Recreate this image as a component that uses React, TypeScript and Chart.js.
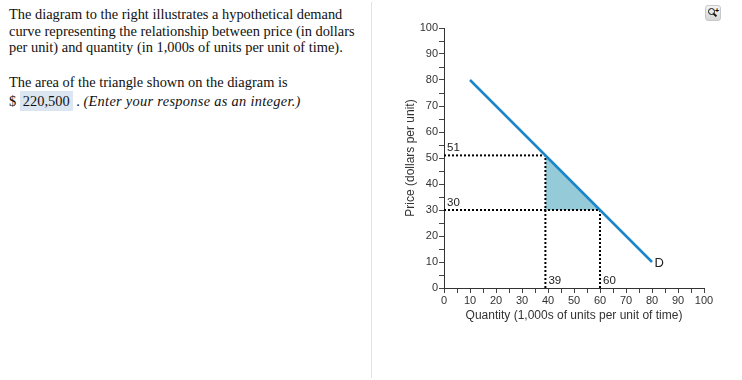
import React, { useEffect, useRef } from "react";
import { Chart, registerables } from "chart.js";

Chart.register(...registerables);

// ---- data ----
const demandQ = [10, 80];
const demandP = [80, 10];
const markQ = [39, 60];
const markP = [51, 30];
const axisMin = 0;
const axisMax = 100;
const tickStep = 5;
const labelStep = 10;
const curveLabel = "D";
const xTitle = "Quantity (1,000s of units per unit of time)";
const yTitle = "Price (dollars per unit)";

const SANS = "'Liberation Sans', Arial, sans-serif";

const labelPlugin = {
  id: "markLabels",
  afterDatasetsDraw(chart: any) {
    const { ctx, scales } = chart;
    const xs = scales.x;
    const ys = scales.y;
    ctx.save();
    ctx.fillStyle = "#222";
    ctx.font = `11.5px ${SANS}`;
    ctx.textAlign = "left";
    ctx.textBaseline = "alphabetic";
    markP.forEach((p) => {
      ctx.fillText(String(p), xs.getPixelForValue(axisMin) + 3, ys.getPixelForValue(p) - 4);
    });
    markQ.forEach((q) => {
      ctx.fillText(String(q), xs.getPixelForValue(q) + 3, ys.getPixelForValue(axisMin) - 4);
    });
    ctx.font = `13px ${SANS}`;
    ctx.textBaseline = "middle";
    const last = demandQ.length - 1;
    ctx.fillText(curveLabel, xs.getPixelForValue(demandQ[last]) + 2.5, ys.getPixelForValue(demandP[last]) + 1);
    ctx.restore();
  },
};

export default function App() {
  const canvasRef = useRef<HTMLCanvasElement | null>(null);

  useEffect(() => {
    if (!canvasRef.current) return;
    const dotted = {
      borderColor: "#000",
      borderWidth: 2,
      borderDash: [2, 2],
      pointRadius: 0,
      fill: false,
      order: 2,
    };
    const dotSets: any[] = [];
    markQ.forEach((q, i) => {
      const p = markP[i];
      dotSets.push({ ...dotted, data: [{ x: axisMin, y: p }, { x: q, y: p }] });
      dotSets.push({ ...dotted, data: [{ x: q, y: axisMin }, { x: q, y: p }] });
    });
    const chart = new Chart(canvasRef.current, {
      type: "line",
      data: {
        datasets: [
          {
            data: demandQ.map((q, i) => ({ x: q, y: demandP[i] })),
            borderColor: "#1a86c8",
            borderWidth: 2.5,
            pointRadius: 0,
            fill: false,
            order: 1,
          },
          ...dotSets,
          {
            data: markQ.map((q, i) => ({ x: q, y: markP[i] })),
            borderWidth: 0,
            borderColor: "rgba(0,0,0,0)",
            backgroundColor: "#95cad9",
            pointRadius: 0,
            fill: { value: markP[markP.length - 1] },
            order: 5,
          },
        ],
      },
      options: {
        animation: false,
        responsive: false,
        maintainAspectRatio: false,
        layout: { padding: { top: 28, right: 38, bottom: 52, left: 0 } },
        plugins: { legend: { display: false }, tooltip: { enabled: false } },
        scales: {
          x: {
            type: "linear",
            min: axisMin,
            max: axisMax,
            afterFit: (s: any) => {
              s.height = 40;
            },
            ticks: {
              stepSize: tickStep,
              autoSkip: false,
              maxRotation: 0,
              padding: 1,
              color: "#333",
              font: { family: SANS, size: 11 },
              callback: (v: any) => (Number(v) % labelStep === 0 ? String(v) : ""),
            },
            grid: { drawOnChartArea: false, drawTicks: true, tickLength: 5, color: "#444" },
            border: { color: "#333", width: 1 },
            title: {
              display: true,
              text: xTitle,
              color: "#333",
              font: { family: SANS, size: 12 },
              padding: { top: 0, bottom: 5.5 },
            },
          },
          y: {
            type: "linear",
            min: axisMin,
            max: axisMax,
            afterFit: (s: any) => {
              s.width = 64;
            },
            ticks: {
              stepSize: tickStep,
              autoSkip: false,
              padding: 1,
              color: "#333",
              font: { family: SANS, size: 11 },
              callback: (v: any) => (Number(v) % labelStep === 0 ? String(v) : ""),
            },
            grid: { drawOnChartArea: false, drawTicks: true, tickLength: 5, color: "#444" },
            border: { color: "#333", width: 1 },
            title: {
              display: true,
              text: yTitle,
              color: "#333",
              font: { family: SANS, size: 12 },
              padding: { top: 23, bottom: 0 },
            },
          },
        },
      },
      plugins: [labelPlugin],
    } as any);
    return () => chart.destroy();
  }, []);

  const serif = "'Liberation Serif', 'Times New Roman', serif";
  return (
    <div style={{ position: "absolute", left: 0, top: 0, width: 742, height: 380, background: "#fff" }}>
      <div
        style={{
          position: "absolute",
          left: 9,
          top: 6,
          width: 362,
          fontFamily: serif,
          fontSize: 14.4,
          lineHeight: "16.5px",
          color: "#111",
          whiteSpace: "nowrap",
        }}
      >
        The diagram to the right illustrates a hypothetical demand
        <br />
        curve representing the relationship between price (in dollars
        <br />
        per unit) and quantity (in 1,000s of units per unit of time).
      </div>
      <div
        style={{
          position: "absolute",
          left: 9,
          top: 74,
          width: 362,
          fontFamily: serif,
          fontSize: 14.4,
          lineHeight: "16.5px",
          color: "#111",
          whiteSpace: "nowrap",
        }}
      >
        The area of the triangle shown on the diagram is
      </div>
      <div
        style={{
          position: "absolute",
          left: 9,
          top: 92,
          width: 362,
          fontFamily: serif,
          fontSize: 14.4,
          lineHeight: "19px",
          color: "#111",
          whiteSpace: "nowrap",
        }}
      >
        ${" "}
        <span style={{ background: "#dce6f2", padding: "2px 3px" }}>220,500</span> .{" "}
        <span style={{ fontStyle: "italic", letterSpacing: "0.3px" }}>(Enter your response as an integer.)</span>
      </div>
      <div style={{ position: "absolute", left: 371, top: 2, width: 1, height: 376, background: "#e3e3e3" }} />
      <div
        style={{
          position: "absolute",
          left: 705,
          top: 5,
          width: 14,
          height: 14,
          borderRadius: 3,
          background: "linear-gradient(#f4f4f4, #d6d6d6)",
          border: "1px solid #c8c8c8",
        }}
      >
        <div
          style={{
            position: "absolute",
            left: 2,
            top: 2,
            width: 5,
            height: 5,
            borderRadius: "50%",
            border: "1.5px solid #111",
          }}
        />
        <div
          style={{
            position: "absolute",
            left: 7,
            top: 8,
            width: 4,
            height: 2,
            background: "#111",
            transform: "rotate(45deg)",
          }}
        />
        <div style={{ position: "absolute", left: 9, top: 1, fontSize: 7, fontFamily: SANS, fontWeight: "bold", lineHeight: "7px" }}>
          +
        </div>
      </div>
      <canvas
        ref={canvasRef}
        width={362}
        height={380}
        style={{ position: "absolute", left: 380, top: 0, width: 362, height: 380 }}
      />
    </div>
  );
}
